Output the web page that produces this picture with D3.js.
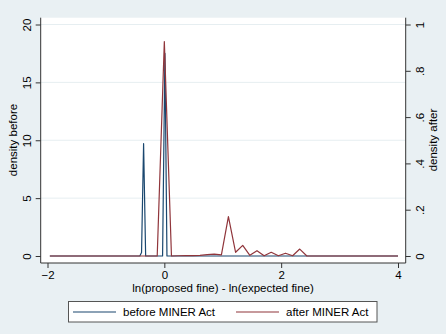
<!DOCTYPE html>
<html><head><meta charset="utf-8">
<script src="https://cdn.jsdelivr.net/npm/d3@7"></script>
<style>
html,body{margin:0;padding:0;background:#e9f0f3;}
svg{display:block;}
text{font-family:"Liberation Sans",Arial,sans-serif;fill:#000;}
</style></head>
<body>
<script>
// ---- data ----
const beforeX = [-1.96, -0.42, -0.39, -0.355, -0.32, -0.03, 0.01, 0.045, 4.0];
const beforeY = [0, 0, 0.3, 9.7, 0, 0, 17.5, 0, 0];           // density before (left axis)
const afterX  = [-1.96, -0.122, 0, 0.122, 0.244, 0.366, 0.488, 0.61, 0.732, 0.854, 0.977,
                 1.097, 1.22, 1.342, 1.464, 1.586, 1.708, 1.83, 1.952, 2.074, 2.196, 2.318, 2.44, 4.0];
const afterY  = [0, 0, 0.926, 0, 0.001, 0.002, 0.002, 0.003, 0.006, 0.008, 0.005,
                 0.17, 0.016, 0.046, 0.003, 0.023, 0.001, 0.016, 0.001, 0.012, 0.001, 0.03, 0, 0]; // density after (right axis)
const xTicks = [-2, 0, 2, 4];
const leftTicks = [0, 5, 10, 15, 20];
const rightTicks = [0, 0.2, 0.4, 0.6, 0.8, 1];
const rightTickLabels = ["0", ".2", ".4", ".6", ".8", "1"];
const seriesNames = ["before MINER Act", "after MINER Act"];
const colors = ["#1a476f", "#90353b"];

const W = 446, H = 334, FS = 11.5;
const svg = d3.select("body").append("svg").attr("width", W).attr("height", H);
svg.append("rect").attr("width", W).attr("height", H).attr("fill", "#e9f0f3");

const region = {l: 40.7, r: 405.7, t: 17.7, b: 263};
const x = d3.scaleLinear().domain([-2, 4]).range([47.5, 398]);
const yL = d3.scaleLinear().domain([0, 20]).range([256, 24.5]);
const yR = d3.scaleLinear().domain([0, 1]).range([256, 24.5]);

// plot region
svg.append("rect").attr("x", region.l).attr("y", region.t)
  .attr("width", region.r - region.l).attr("height", region.b - region.t).attr("fill", "#fff");

// gridlines
svg.append("g").selectAll("line").data(leftTicks.filter(d => d > 0)).join("line")
  .attr("x1", region.l).attr("x2", region.r)
  .attr("y1", d => yL(d)).attr("y2", d => yL(d))
  .attr("stroke", "#e6eef1").attr("stroke-width", 1);

// lines
const lineB = d3.line().x((d, i) => x(beforeX[i])).y(d => yL(d));
const lineA = d3.line().x((d, i) => x(afterX[i])).y(d => yR(d));
svg.append("path").attr("d", lineB(beforeY)).attr("fill", "none")
  .attr("stroke", colors[0]).attr("stroke-width", 1.2).attr("stroke-linejoin", "round");
svg.append("path").attr("d", lineA(afterY)).attr("fill", "none")
  .attr("stroke", colors[1]).attr("stroke-width", 1.2).attr("stroke-linejoin", "round");

// axes
const axisColor = "#333";
const gL = svg.append("g").attr("transform", `translate(${region.l},0)`)
  .call(d3.axisLeft(yL).tickValues(leftTicks).tickSize(5).tickFormat(d3.format("d")));
const gR = svg.append("g").attr("transform", `translate(${region.r},0)`)
  .call(d3.axisRight(yR).tickValues(rightTicks).tickSize(5).tickFormat((d, i) => rightTickLabels[i]));
const gB = svg.append("g").attr("transform", `translate(0,${region.b})`)
  .call(d3.axisBottom(x).tickValues(xTicks).tickSize(5).tickFormat(d3.format("d")));

[gL, gR, gB].forEach(g => {
  g.select(".domain").remove();
  g.selectAll(".tick line").attr("stroke", axisColor);
  g.selectAll(".tick text").attr("font-size", FS).attr("font-family", "Liberation Sans, Arial, sans-serif").attr("fill", "#000");
});
// axis lines across full region
svg.append("line").attr("x1", region.l).attr("x2", region.l).attr("y1", region.t).attr("y2", region.b).attr("stroke", axisColor);
svg.append("line").attr("x1", region.r).attr("x2", region.r).attr("y1", region.t).attr("y2", region.b).attr("stroke", axisColor);
svg.append("line").attr("x1", region.l).attr("x2", region.r).attr("y1", region.b).attr("y2", region.b).attr("stroke", axisColor);

// rotated tick labels
gL.selectAll(".tick text")
  .attr("x", null).attr("dy", null)
  .attr("text-anchor", "middle").attr("dominant-baseline", "central")
  .attr("transform", `translate(${26.5 - region.l},0) rotate(-90)`);
gR.selectAll(".tick text")
  .attr("x", null).attr("dy", null)
  .attr("text-anchor", "middle").attr("dominant-baseline", "central")
  .attr("transform", `translate(${419.5 - region.r},0) rotate(-90)`);
gB.selectAll(".tick text").attr("dy", null).attr("y", 12).attr("dominant-baseline", "central");

// titles
svg.append("text").attr("transform", `translate(13,140) rotate(-90)`)
  .attr("text-anchor", "middle").attr("dominant-baseline", "central").attr("font-size", FS).text("density before");
svg.append("text").attr("transform", `translate(433,140) rotate(-90)`)
  .attr("text-anchor", "middle").attr("dominant-baseline", "central").attr("font-size", FS).text("density after");
svg.append("text").attr("x", 223).attr("y", 288)
  .attr("text-anchor", "middle").attr("dominant-baseline", "central").attr("font-size", FS)
  .text("ln(proposed fine) - ln(expected fine)");

// legend
const lg = svg.append("g");
lg.append("rect").attr("x", 68.5).attr("y", 301.5).attr("width", 308.5).attr("height", 20.5)
  .attr("fill", "#fff").attr("stroke", "#555");
const legItems = [{x1: 73, x2: 116, tx: 123}, {x1: 236, x2: 279, tx: 286}];
legItems.forEach((it, i) => {
  lg.append("line").attr("x1", it.x1).attr("x2", it.x2).attr("y1", 312).attr("y2", 312)
    .attr("stroke", colors[i]).attr("stroke-width", 1.2);
  lg.append("text").attr("x", it.tx).attr("y", 312).attr("dominant-baseline", "central")
    .attr("font-size", FS).text(seriesNames[i]);
});
</script>
</body></html>
